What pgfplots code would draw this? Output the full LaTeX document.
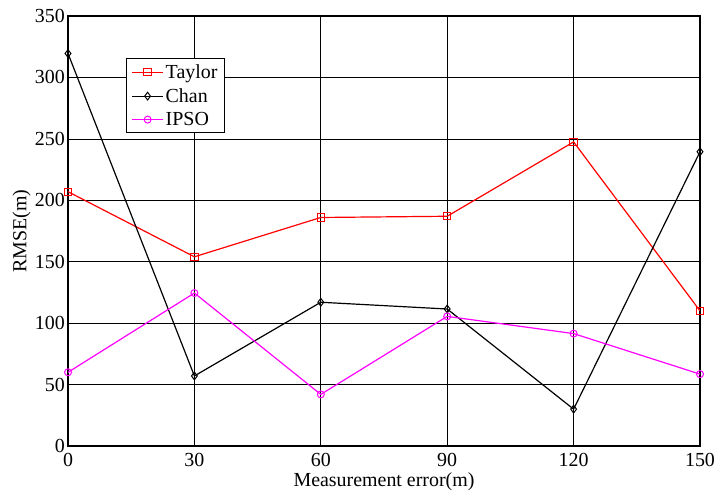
\documentclass[border=0pt]{standalone}
\usepackage{fontspec}
\setmainfont{Liberation Serif}
\usepackage{pgfplots}
\pgfplotsset{compat=1.18}
\definecolor{ipsomag}{rgb}{1,0,1}

\begin{document}
\begin{tikzpicture}
\begin{axis}[
    scale only axis,
    width=632bp, height=430bp,
    xmin=0, xmax=150, ymin=0, ymax=350,
    xtick={0,30,60,90,120,150},
    ytick={0,50,100,150,200,250,300,350},
    grid=major, grid style={black, line width=0.7pt},
    axis line style={black, line width=1.2pt},
    tick align=inside, tick style={black, line width=0.7pt},
    major tick length=6bp,
    xtick pos=both, ytick pos=both,
    xticklabel pos=lower, yticklabel pos=left,
    ticklabel style={font=\fontsize{20}{24}\selectfont},
    xticklabel style={anchor=base, yshift=-20bp},
    yticklabel style={inner xsep=3bp},
    /pgf/number format/assume math mode=true,
    xlabel={Measurement error(m)},
    ylabel={RMSE(m)},
    every axis x label/.style={at={(axis description cs:0.5,0)}, anchor=base,
                               yshift=-40bp, font=\fontsize{20}{24}\selectfont},
    every axis y label/.style={at={(axis description cs:-0.0736,0.5)}, rotate=90,
                               anchor=center, font=\fontsize{20}{24}\selectfont},
    legend style={at={(0.0918,0.902)}, anchor=north west, draw=black,
                  line width=1pt, font=\fontsize{20}{24}\selectfont,
                  row sep=4.5bp, inner xsep=5bp, inner ysep=4bp,
                  nodes={inner sep=2bp}},
    legend cell align=left,
    legend image code/.code={
      \draw[mark repeat=2, mark phase=2, #1]
        plot coordinates {(0bp,0bp) (15.5bp,0bp) (31bp,0bp)};
    },
    every axis plot/.append style={line width=1.2pt},
  ]
  \addplot[red, mark=square, mark size=3.7pt, mark options={solid, line width=1pt}]
    coordinates {(0,207) (30,154) (60,186) (90,187) (120,247.5) (150,110)};
  \addplot[black, mark=diamond, mark size=3.9pt, mark options={solid, line width=1pt}]
    coordinates {(0,319.5) (30,57) (60,117) (90,111.5) (120,30) (150,239.5)};
  \addplot[ipsomag, mark=o, mark size=3.5pt, mark options={solid, line width=1pt}]
    coordinates {(0,60) (30,124.5) (60,42) (90,105.5) (120,91.5) (150,58.5)};
  \legend{Taylor, Chan, IPSO}
\end{axis}
\pgfresetboundingbox
\path[use as bounding box] (-68bp,-46bp) rectangle (648bp,446bp);
\end{tikzpicture}
\end{document}
